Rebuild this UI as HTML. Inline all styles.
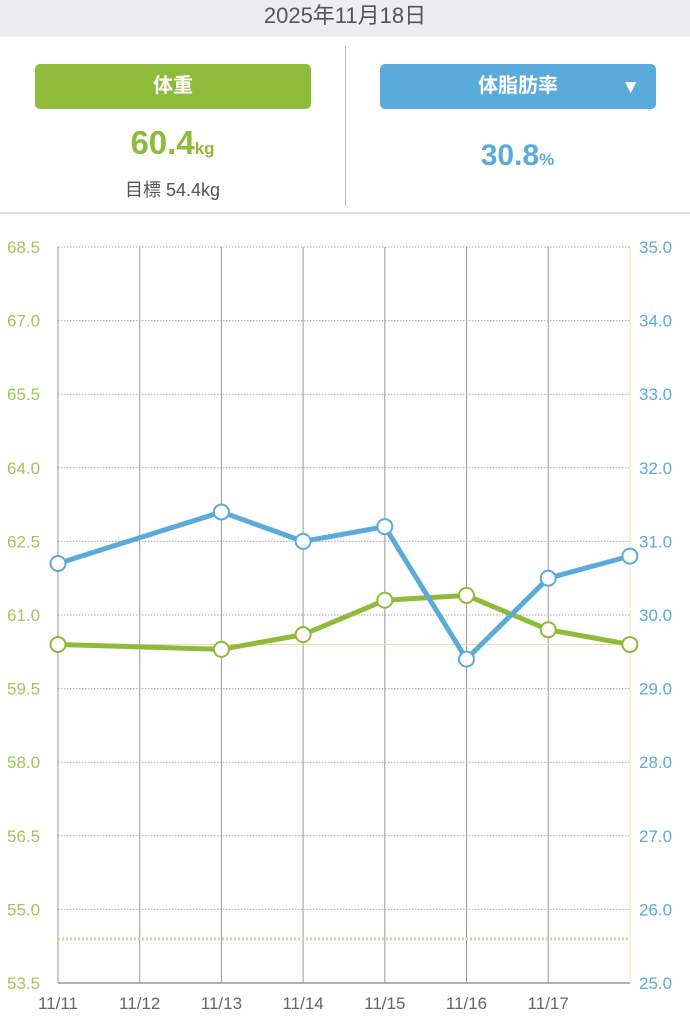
<!DOCTYPE html>
<html><head><meta charset="utf-8"><style>
body{margin:0;width:690px;height:1024px;background:#fff;font-family:"Liberation Sans","Noto Sans CJK JP",sans-serif;overflow:hidden;position:relative}
.hdr{position:absolute;left:0;top:0;width:690px;height:37px;background:#ececf2;text-align:center;font-size:22px;line-height:32px;color:#555}
.btn{position:absolute;top:64px;height:45px;border-radius:5px;color:#fff;font-size:20px;line-height:45px;text-align:center;font-weight:bold}
</style></head><body>
<div class="hdr">2025年11月18日</div>
<div class="btn" style="left:35px;width:276px;background:#8fbb3a">体重</div>
<div class="btn" style="left:380px;width:276px;background:#5aabdb">体脂肪率<span style="position:absolute;right:16px;top:1px;font-size:19px">▼</span></div>
<div style="position:absolute;left:0;width:345px;top:124px;text-align:center;color:#8fbb3a;font-size:33px;font-weight:bold">60.4<span style="font-size:17px">kg</span></div>
<div style="position:absolute;left:0;width:345px;top:176px;text-align:center;color:#555;font-size:18px">目標 54.4kg</div>
<div style="position:absolute;left:345px;width:345px;top:139px;text-align:center;color:#5aabdb;font-size:30px;font-weight:bold">30.8<span style="font-size:17px">%</span></div>
<div style="position:absolute;left:345px;top:46px;width:1px;height:160px;background:#bbb"></div>
<div style="position:absolute;left:0;top:212px;width:690px;height:2px;background:#ddd"></div>
<svg id="c" width="690" height="1024" style="position:absolute;left:0;top:0"></svg>
<script>
const dates=["11/11","11/12","11/13","11/14","11/15","11/16","11/17"];
const leftTicks=[68.5,67.0,65.5,64.0,62.5,61.0,59.5,58.0,56.5,55.0,53.5];
const rightTicks=[35.0,34.0,33.0,32.0,31.0,30.0,29.0,28.0,27.0,26.0,25.0];
const weightIdx=[0,2,3,4,5,6,7];
const weightVals=[60.4,60.3,60.6,61.3,61.4,60.7,60.4];
const fatIdx=[0,2,3,4,5,6,7];
const fatVals=[30.7,31.4,31.0,31.2,29.4,30.5,30.8];
const goal=54.4, current=60.4;
const NS="http://www.w3.org/2000/svg",svg=document.getElementById('c');
const X0=58,DX=81.7,Y0=247,Y1=983;
const x=i=>X0+i*DX;
const yl=v=>Y1-(v-53.5)/(68.5-53.5)*(Y1-Y0);
const yr=v=>Y1-(v-25)/(35-25)*(Y1-Y0);
function el(t,a,txt){const e=document.createElementNS(NS,t);for(const k in a)e.setAttribute(k,a[k]);if(txt!=null)e.textContent=txt;svg.appendChild(e);return e;}
leftTicks.forEach((v,i)=>{
 const last=i==leftTicks.length-1;
 const g=el('line',{x1:X0,x2:630,y1:yl(v),y2:yl(v),stroke:last?'#999':'#aaa','stroke-width':last?1.5:1,'stroke-dasharray':last?'':'1.5,1.5'});
 
 
 const t=el('text',{x:7,y:yl(v)+6,fill:'#a6c45a','font-size':17},v.toFixed(1));
 
 
});
rightTicks.forEach(v=>{
 const t=el('text',{x:639,y:yr(v)+6,fill:'#5aabdb','font-size':17},v.toFixed(1));
 
 
});
dates.forEach((d,i)=>{
 const l=el('line',{x1:x(i),x2:x(i),y1:Y0,y2:Y1,stroke:'#999','stroke-width':1});
 
 
 const t=el('text',{x:x(i),y:1009,fill:'#666','font-size':17,'text-anchor':'middle'},d);
 
 
});
const rb=el('line',{x1:630,x2:630,y1:Y0,y2:Y1,stroke:'#f5e6b8','stroke-width':1});


const gl=el('line',{x1:X0,x2:630,y1:yl(goal),y2:yl(goal),stroke:'#c6de92','stroke-width':3,'stroke-dasharray':'2,2'});


const cl=el('line',{x1:X0,x2:630,y1:yl(current),y2:yl(current),stroke:'#f5dca8','stroke-width':1});


function series(idx,vals,yf,col,name){
 const p=el('polyline',{points:idx.map((k,j)=>x(k)+','+yf(vals[j])).join(' '),fill:'none',stroke:col,'stroke-width':5,'stroke-linejoin':'round'});
 
 
 idx.forEach((k,j)=>{const c=el('circle',{cx:x(k),cy:yf(vals[j]),r:7.5,fill:'#fff',stroke:col,'stroke-width':2});
 
 });
}
series(weightIdx,weightVals,yl,'#8fbb3a','weight');
series(fatIdx,fatVals,yr,'#5aabdb','body-fat');
</script>
</body></html>
